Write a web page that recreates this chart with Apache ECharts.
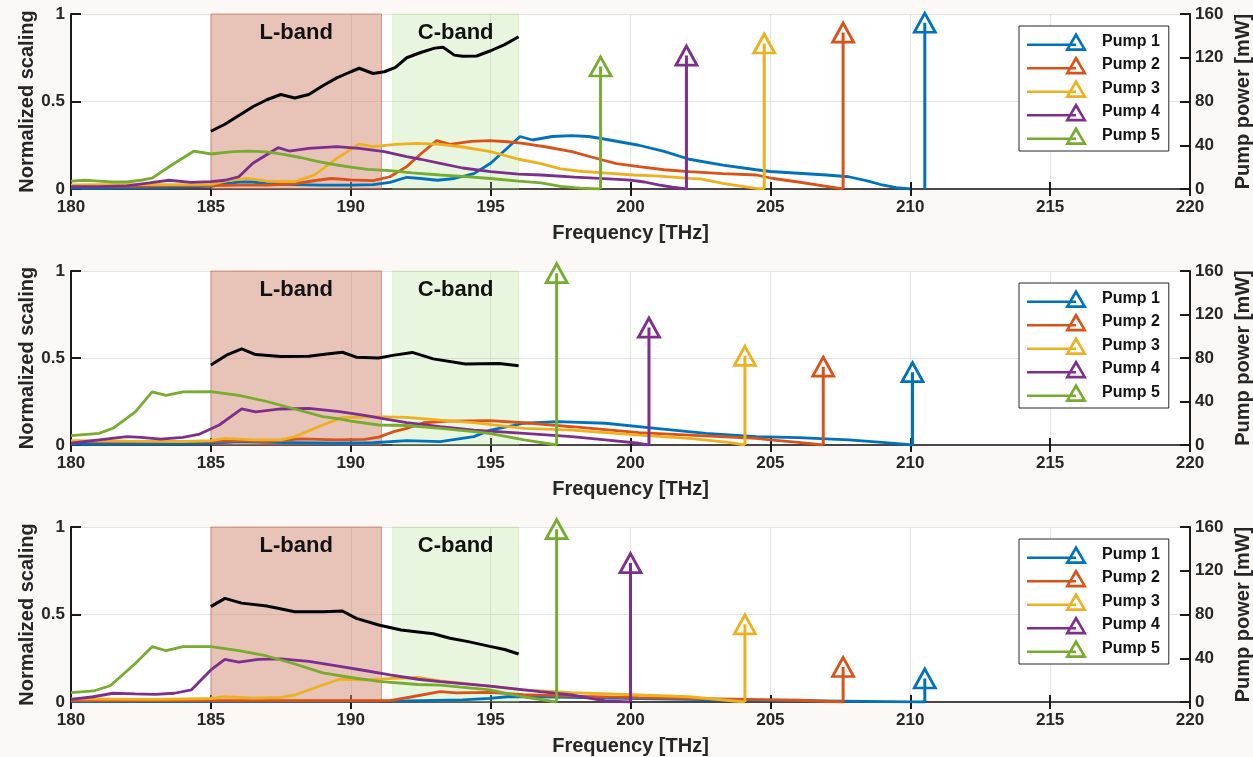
<!DOCTYPE html>
<html lang="en">
<head>
<meta charset="UTF-8">
<title>Pump scaling</title>
<script src="https://cdn.jsdelivr.net/npm/echarts@6/dist/echarts.min.js"></script>
<style>
  html, body { margin: 0; background: #fcf8f6; }
  #chart { width: 1253px; height: 757px; }
</style>
</head>
<body>
<div id="chart"></div>
<script>
// ---- data ----
const pumpNames = ['Pump 1', 'Pump 2', 'Pump 3', 'Pump 4', 'Pump 5'];

// panel 1
const black1 = [[185,0.33],[185.5,0.37],[186,0.42],[186.5,0.47],[187,0.51],[187.5,0.54],[188,0.52],[188.5,0.54],[189,0.59],[189.5,0.635],[190,0.67],[190.3,0.69],[190.8,0.66],[191.2,0.67],[191.6,0.695],[192,0.75],[192.5,0.78],[193,0.805],[193.3,0.81],[193.7,0.765],[194,0.758],[194.5,0.76],[195,0.79],[195.5,0.825],[196,0.87]];
const blue1 = [[180,0.005],[181,0.005],[182,0.008],[183,0.01],[184,0.012],[185,0.015],[185.5,0.03],[186,0.04],[186.5,0.04],[187,0.03],[188,0.025],[189,0.022],[190,0.022],[190.8,0.025],[191.4,0.038],[192,0.067],[192.5,0.06],[193.1,0.05],[193.7,0.06],[194.4,0.088],[195,0.147],[195.5,0.22],[196.05,0.3],[196.5,0.28],[197.2,0.3],[197.9,0.305],[198.5,0.3],[198.9,0.29],[199.6,0.27],[200.3,0.25],[201.2,0.215],[202.1,0.17],[203.3,0.137],[204.5,0.11],[205,0.1],[206,0.09],[207,0.08],[207.8,0.07],[208.5,0.045],[209,0.023],[209.5,0.008],[210,0]];
const orange1 = [[180,0.015],[181,0.015],[182,0.015],[183,0.018],[184,0.02],[185,0.02],[186,0.022],[187,0.022],[188,0.03],[188.8,0.05],[189.3,0.06],[190,0.052],[190.8,0.048],[191.4,0.07],[192,0.128],[192.5,0.2],[193.07,0.276],[193.55,0.255],[194.3,0.272],[194.97,0.276],[195.6,0.27],[196.16,0.261],[197,0.24],[197.9,0.213],[198.9,0.17],[199.5,0.145],[200.3,0.128],[201.2,0.11],[202.1,0.099],[203.3,0.088],[204.5,0.08],[205.1,0.06],[206,0.04],[207,0.015],[207.6,0]];
const yellow1 = [[180,0.023],[181,0.025],[182,0.025],[183,0.025],[184,0.025],[185,0.027],[185.7,0.05],[186.3,0.061],[187,0.045],[188,0.042],[188.7,0.08],[189.5,0.175],[190.3,0.257],[190.8,0.242],[191.6,0.255],[192.4,0.261],[193.2,0.255],[194,0.24],[195,0.213],[196,0.17],[196.76,0.147],[197.5,0.115],[198.3,0.1],[198.9,0.093],[200.1,0.08],[200.9,0.075],[202.1,0.061],[202.5,0.058],[203.3,0.032],[204,0.015],[204.5,0.004],[204.78,0]];
const purple1 = [[180,0.013],[181,0.013],[182,0.018],[182.8,0.035],[183.5,0.05],[184.3,0.038],[185,0.042],[185.5,0.05],[186,0.07],[186.5,0.147],[187.4,0.236],[187.8,0.217],[188.5,0.232],[189.5,0.242],[190.3,0.232],[191.2,0.213],[192,0.185],[192.5,0.17],[193.2,0.147],[194,0.12],[195,0.099],[196,0.085],[196.8,0.08],[198,0.068],[198.9,0.061],[200,0.051],[200.5,0.04],[201,0.023],[201.5,0.01],[202,0]];
const green1 = [[180,0.045],[180.5,0.05],[181,0.045],[181.5,0.04],[182,0.04],[182.5,0.05],[182.9,0.062],[183.6,0.137],[184.4,0.217],[185,0.2],[185.8,0.213],[186.4,0.217],[187,0.212],[187.6,0.198],[188.2,0.18],[188.8,0.158],[189.4,0.14],[190,0.125],[190.6,0.112],[191.4,0.105],[192.2,0.092],[193.2,0.08],[194,0.072],[195,0.06],[196,0.045],[196.8,0.035],[197.5,0.015],[198.2,0.005],[198.9,0]];
const pumpFreq1 = [210.52, 207.6, 204.78, 202.0, 198.93];
const pumpPower1 = [152, 143, 133, 122, 112];

// panel 2
const black2 = [[185,0.46],[185.6,0.52],[186.1,0.552],[186.6,0.52],[187.5,0.508],[188.5,0.51],[189,0.52],[189.7,0.533],[190.2,0.505],[191,0.5],[191.5,0.515],[192.2,0.532],[192.95,0.495],[194.1,0.465],[195.3,0.469],[196,0.455]];
const blue2 = [[180,0.005],[183,0.008],[185,0.01],[186,0.02],[187,0.015],[189.6,0.01],[190.8,0.013],[192,0.025],[193.2,0.019],[194.4,0.048],[195,0.086],[196.2,0.125],[197.4,0.134],[199.1,0.125],[200.9,0.096],[202.7,0.067],[204.5,0.048],[206,0.042],[207.8,0.029],[209,0.015],[210.08,0]];
const orange2 = [[180,0.02],[182,0.02],[184,0.02],[185,0.02],[186,0.025],[187,0.02],[188.2,0.035],[189.5,0.03],[190.5,0.032],[191,0.045],[191.5,0.075],[192,0.095],[192.6,0.128],[193.5,0.137],[194.97,0.14],[196.16,0.128],[197.9,0.105],[200.3,0.071],[202.1,0.057],[204.5,0.038],[205,0.029],[206,0.015],[206.89,0]];
const yellow2 = [[180,0.025],[182,0.022],[184,0.02],[185,0.025],[185.5,0.038],[186.5,0.029],[187.5,0.029],[188,0.048],[189,0.115],[189.7,0.157],[190.8,0.163],[192,0.159],[193.2,0.143],[194.4,0.128],[196.2,0.096],[197.9,0.086],[200.3,0.057],[202.1,0.038],[203.5,0.015],[204.09,0]];
const purple2 = [[180,0.01],[181,0.029],[182,0.048],[182.5,0.044],[183.2,0.034],[184,0.044],[184.6,0.063],[185.3,0.115],[186.1,0.207],[186.6,0.19],[187.5,0.207],[188.5,0.21],[189.6,0.192],[190.5,0.17],[191.2,0.15],[192,0.128],[193.2,0.105],[194.4,0.086],[196.2,0.067],[197.9,0.048],[199.1,0.029],[200.3,0.01],[200.66,0]];
const green2 = [[180,0.054],[181,0.067],[181.5,0.096],[182.3,0.19],[182.9,0.305],[183.4,0.285],[184,0.305],[185,0.307],[186,0.285],[187,0.25],[188,0.207],[189,0.163],[189.6,0.15],[190,0.137],[191,0.115],[192,0.112],[193.2,0.095],[194.4,0.077],[195,0.066],[196.2,0.029],[197.36,0]];
const pumpFreq2 = [210.08, 206.89, 204.09, 200.66, 197.36];
const pumpPower2 = [67, 72, 82, 108, 158];

// panel 3
const black3 = [[185,0.545],[185.5,0.592],[186.1,0.565],[187,0.549],[188,0.516],[189,0.516],[189.7,0.52],[190.2,0.478],[191,0.44],[191.8,0.411],[192.95,0.39],[193.55,0.364],[194.2,0.345],[194.97,0.318],[195.5,0.3],[196,0.274]];
const blue3 = [[180,0.003],[186,0.004],[192,0.006],[194,0.012],[194.97,0.021],[195.6,0.03],[196.76,0.03],[200.3,0.02],[203.7,0.011],[206,0.008],[210,0.001],[210.52,0]];
const orange3 = [[180,0.008],[185,0.008],[190,0.008],[191.4,0.008],[192.2,0.03],[193.19,0.059],[193.78,0.052],[194.97,0.055],[196.16,0.042],[197.9,0.034],[200.3,0.025],[203.7,0.017],[206,0.01],[207.6,0]];
const yellow3 = [[180,0.018],[183,0.015],[185,0.02],[185.5,0.03],[186.5,0.022],[187.5,0.027],[188,0.04],[189,0.097],[189.6,0.13],[190.5,0.126],[191.5,0.135],[192.4,0.14],[193.2,0.12],[194.97,0.091],[196.16,0.069],[197.9,0.053],[200.3,0.04],[202.1,0.03],[204.09,0]];
const purple3 = [[180,0.015],[180.8,0.03],[181.5,0.05],[182.3,0.046],[183,0.044],[183.7,0.05],[184.3,0.069],[185,0.183],[185.5,0.244],[186,0.228],[186.7,0.244],[187.5,0.246],[188.5,0.232],[189.5,0.206],[190.5,0.18],[191.4,0.155],[192.4,0.13],[193.2,0.116],[194.97,0.091],[196.76,0.059],[197.9,0.04],[199.1,0.006],[199.98,0]];
const green3 = [[180,0.053],[180.8,0.063],[181.4,0.093],[182.3,0.22],[182.9,0.316],[183.4,0.293],[184,0.316],[185,0.316],[186,0.293],[187,0.263],[188,0.217],[189,0.166],[190,0.14],[191,0.118],[192.4,0.1],[193.2,0.097],[194.97,0.069],[196.16,0.03],[197.36,0]];
const pumpFreq3 = [210.52, 207.6, 204.09, 200.0, 197.36];
const pumpPower3 = [21.5, 32, 71, 127, 158];

const panels = [
  { black: black1, curves: [blue1, orange1, yellow1, purple1, green1], freq: pumpFreq1, power: pumpPower1 },
  { black: black2, curves: [blue2, orange2, yellow2, purple2, green2], freq: pumpFreq2, power: pumpPower2 },
  { black: black3, curves: [blue3, orange3, yellow3, purple3, green3], freq: pumpFreq3, power: pumpPower3 }
];

// ---- layout / style ----
const colors = ['#0072bd', '#d95319', '#edb120', '#7e2f8e', '#77ac30'];
const tops = [14, 271, 527];
const heights = [175, 174, 175];
const font = '"Liberation Sans", Arial, sans-serif';
const ink = '#1a1a1a';
const labelStyle = { color: '#262626', fontSize: 17, fontWeight: 'bold', fontFamily: font };
const nameStyle = { color: '#262626', fontSize: 20, fontWeight: 'bold', fontFamily: font };

// legend icon: line running into a hollow triangle at its right end
const legendIcon = 'path://M0 11.4L49 11.4L49 14L0 14Z' +
  'M49 0L60 19L38 19Z' +
  'M49 5.6L42.5 16.3L55.5 16.3Z';

const grid = [], xAxis = [], yAxis = [], legend = [], series = [];

panels.forEach((p, i) => {
  grid.push({ left: 71, right: 63, top: tops[i], height: heights[i], show: true, backgroundColor: '#fff', borderWidth: 0, outerBoundsMode: 'none', containLabel: false });
});

// bottom x axes
panels.forEach((p, i) => {
  xAxis.push({
    type: 'value', gridIndex: i, min: 180, max: 220, interval: 5,
    name: 'Frequency [THz]', nameLocation: 'middle', nameGap: 34, nameMoveOverlap: false, nameTextStyle: nameStyle,
    axisLine: { lineStyle: { color: ink, width: 2 } },
    axisTick: { inside: true, length: 7, lineStyle: { color: ink, width: 2 } },
    axisLabel: Object.assign({ margin: 10 }, labelStyle),
    splitLine: { show: true, lineStyle: { color: '#e2e2e2', width: 1 } }
  });
});
// top x axes (box)
panels.forEach((p, i) => {
  xAxis.push({
    type: 'value', gridIndex: i, min: 180, max: 220, interval: 5, position: 'top',
    axisLine: { lineStyle: { color: '#555', width: 1.5 } },
    axisTick: { inside: true, length: 7, lineStyle: { color: ink, width: 2 } },
    axisLabel: { show: false }, splitLine: { show: false }
  });
});
// left y axes
panels.forEach((p, i) => {
  yAxis.push({
    type: 'value', gridIndex: i, min: 0, max: 1, interval: 0.5,
    name: 'Normalized scaling', nameLocation: 'middle', nameGap: 34, nameMoveOverlap: false, nameTextStyle: nameStyle,
    axisLine: { show: true, lineStyle: { color: ink, width: 2 } },
    axisTick: { show: true, inside: true, length: 10, lineStyle: { color: ink, width: 2 } },
    axisLabel: Object.assign({ margin: 6 }, labelStyle),
    splitLine: { show: true, lineStyle: { color: '#e2e2e2', width: 1 } }
  });
});
// right y axes
panels.forEach((p, i) => {
  yAxis.push({
    type: 'value', gridIndex: i, min: 0, max: 160, interval: 40, position: 'right',
    name: 'Pump power [mW]', nameLocation: 'middle', nameGap: 43, nameRotate: 90, nameMoveOverlap: false, nameTextStyle: nameStyle,
    axisLine: { show: true, lineStyle: { color: ink, width: 2 } },
    axisTick: { show: true, inside: true, length: 10, lineStyle: { color: ink, width: 2 } },
    axisLabel: Object.assign({ margin: 5 }, labelStyle),
    splitLine: { show: false }
  });
});

panels.forEach((p, i) => {
  legend.push({
    data: pumpNames.map((n, k) => ({ name: n, icon: legendIcon, itemStyle: { color: colors[k], borderWidth: 0 } })),
    orient: 'vertical', left: 1019, top: tops[i] + 12,
    itemWidth: 60, itemHeight: 19, itemGap: 4.5,
    padding: [6, 9, 6, 8],
    backgroundColor: '#fff', borderColor: '#262626', borderWidth: 1, borderRadius: 0,
    textStyle: { fontSize: 16, fontWeight: 'bold', fontFamily: font, color: '#111', padding: [0, 0, 0, 10] }
  });

  // band shading
  series.push({
    type: 'line', xAxisIndex: i, yAxisIndex: i, data: [[180, 0]], symbol: 'none', silent: true, z: 1,
    lineStyle: { opacity: 0 },
    markArea: {
      silent: true,
      label: { show: true, position: 'insideTop', distance: 8, fontSize: 22, fontWeight: 'bold', fontFamily: font, color: '#111' },
      data: [
        [{ name: 'L-band', xAxis: 185, itemStyle: { color: 'rgba(209,135,113,0.5)', borderColor: 'rgba(190,100,80,0.6)', borderWidth: 1 } }, { xAxis: 191.1 }],
        [{ name: 'C-band', xAxis: 191.5, itemStyle: { color: 'rgba(167,219,127,0.25)', borderColor: 'rgba(167,219,127,0.3)', borderWidth: 1 } }, { xAxis: 196 }]
      ]
    }
  });

  // pump stems (right axis)
  p.freq.forEach((f, k) => {
    series.push({
      name: pumpNames[k], type: 'line', xAxisIndex: i, yAxisIndex: 3 + i, z: 5,
      data: [{ value: [f, 0], symbol: 'none' }, { value: [f, p.power[k]] }],
      symbol: 'triangle', symbolSize: [21, 19],
      itemStyle: { color: 'rgba(255,255,255,0)', borderColor: colors[k], borderWidth: 2.8 },
      lineStyle: { color: colors[k], width: 3 }
    });
  });

  // normalized curves
  p.curves.forEach((c, k) => {
    series.push({
      name: pumpNames[k], type: 'line', xAxisIndex: i, yAxisIndex: i, z: 3,
      data: c, symbol: 'none', showSymbol: false,
      itemStyle: { color: colors[k] },
      lineStyle: { color: colors[k], width: 2.8 }
    });
  });

  series.push({
    type: 'line', xAxisIndex: i, yAxisIndex: i, z: 4, data: p.black, symbol: 'none',
    lineStyle: { color: '#000', width: 3 }
  });
});

const chart = echarts.init(document.getElementById('chart'));
chart.setOption({
  backgroundColor: '#fcf8f6',
  animation: false,
  grid, xAxis, yAxis, legend, series
});
</script>
</body>
</html>
